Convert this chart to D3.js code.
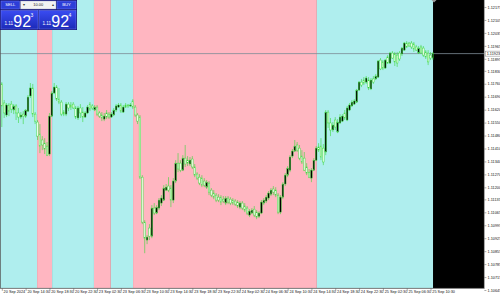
<!DOCTYPE html>
<html>
<head>
<meta charset="utf-8">
<script src="https://cdn.jsdelivr.net/npm/d3@7"></script>
<style>
html, body { margin: 0; padding: 0; background: #fff; }
svg { display: block; font-family: "Liberation Sans", Arial, sans-serif; }
</style>
</head>
<body>
<svg id="chart" width="500" height="296"></svg>
<script>
// time axis labels, one every 10 bars
const timeLabels = ["20 Sep 2024", "20 Sep 14:30", "20 Sep 18:30", "20 Sep 22:30", "23 Sep 02:30",
  "23 Sep 06:30", "23 Sep 10:30", "23 Sep 14:30", "23 Sep 18:30", "23 Sep 22:30", "24 Sep 02:30",
  "24 Sep 06:30", "24 Sep 10:30", "24 Sep 14:30", "24 Sep 18:30", "24 Sep 22:30", "25 Sep 02:30",
  "25 Sep 06:30", "25 Sep 10:30"];

const priceLabels = ["1.12175", "1.12105", "1.12035", "1.11965", "1.11895", "1.11830", "1.11760",
  "1.11690", "1.11620", "1.11550", "1.11480", "1.11410", "1.11340", "1.11270", "1.11200", "1.11135",
  "1.11065", "1.10995", "1.10925", "1.10855", "1.10785", "1.10715", "1.10645"];

const open = [
  1.11759,1.11656,1.11591,1.11645,1.11650,1.11618,1.11640,1.11602,1.11580,1.11596,
  1.11585,1.11612,1.11694,1.11737,1.11596,1.11553,1.11488,1.11456,1.11439,1.11423,
  1.11380,1.11585,1.11710,1.11742,1.11677,1.11661,1.11607,1.11596,1.11650,1.11645,
  1.11650,1.11629,1.11575,1.11629,1.11607,1.11580,1.11602,1.11650,1.11640,1.11618,
  1.11634,1.11602,1.11591,1.11569,1.11602,1.11596,1.11580,1.11591,1.11618,1.11634,
  1.11645,1.11607,1.11645,1.11645,1.11640,1.11667,1.11634,1.11591,1.11580,1.11255,
  1.11012,1.10915,1.10980,1.10936,1.11088,1.11061,1.11088,1.11115,1.11131,1.11185,
  1.11207,1.11196,1.11131,1.11234,1.11331,1.11331,1.11293,1.11358,1.11347,1.11326,
  1.11353,1.11310,1.11272,1.11255,1.11250,1.11234,1.11201,1.11223,1.11185,1.11169,
  1.11158,1.11147,1.11147,1.11136,1.11115,1.11142,1.11136,1.11131,1.11126,1.11120,
  1.11093,1.11115,1.11099,1.11088,1.11050,1.11061,1.11082,1.11066,1.11044,1.11061,
  1.11115,1.11126,1.11142,1.11163,1.11191,1.11185,1.11158,1.11066,1.11147,1.11218,
  1.11266,1.11293,1.11369,1.11396,1.11429,1.11412,1.11369,1.11358,1.11310,1.11282,
  1.11250,1.11293,1.11347,1.11418,1.11423,1.11412,1.11391,1.11607,1.11548,1.11510,
  1.11564,1.11499,1.11548,1.11558,1.11602,1.11564,1.11618,1.11640,1.11650,1.11661,
  1.11726,1.11769,1.11780,1.11769,1.11780,1.11732,1.11786,1.11786,1.11796,1.11888,
  1.11878,1.11845,1.11905,1.11872,1.11926,1.11921,1.11915,1.11926,1.11921,1.11942,
  1.11980,1.11980,1.11980,1.11975,1.11959,1.11926,1.11959,1.11953,1.11932,1.11926,
  1.11915,1.11899];

const high = [
  1.11769,1.11672,1.11656,1.11656,1.11667,1.11650,1.11650,1.11629,1.11607,1.11612,
  1.11623,1.11699,1.11764,1.11759,1.11607,1.11564,1.11542,1.11477,1.11466,1.11445,
  1.11602,1.11721,1.11764,1.11753,1.11737,1.11672,1.11618,1.11661,1.11661,1.11661,
  1.11661,1.11640,1.11640,1.11650,1.11634,1.11612,1.11645,1.11661,1.11650,1.11645,
  1.11645,1.11612,1.11607,1.11602,1.11618,1.11607,1.11607,1.11629,1.11650,1.11656,
  1.11656,1.11645,1.11656,1.11650,1.11656,1.11677,1.11645,1.11602,1.11591,1.11266,
  1.11023,1.10942,1.11001,1.11104,1.11115,1.11104,1.11142,1.11158,1.11212,1.11218,
  1.11255,1.11212,1.11250,1.11347,1.11385,1.11347,1.11374,1.11429,1.11369,1.11364,
  1.11369,1.11326,1.11282,1.11272,1.11266,1.11250,1.11239,1.11234,1.11196,1.11185,
  1.11169,1.11163,1.11158,1.11153,1.11153,1.11153,1.11147,1.11142,1.11136,1.11131,
  1.11126,1.11126,1.11115,1.11099,1.11082,1.11088,1.11099,1.11077,1.11071,1.11131,
  1.11142,1.11158,1.11180,1.11196,1.11207,1.11201,1.11169,1.11158,1.11228,1.11277,
  1.11315,1.11374,1.11407,1.11456,1.11445,1.11429,1.11401,1.11391,1.11331,1.11299,
  1.11304,1.11358,1.11423,1.11439,1.11466,1.11434,1.11618,1.11618,1.11575,1.11553,
  1.11580,1.11569,1.11596,1.11596,1.11618,1.11640,1.11656,1.11672,1.11677,1.11732,
  1.11775,1.11786,1.11796,1.11802,1.11796,1.11791,1.11802,1.11813,1.11888,1.11899,
  1.11888,1.11894,1.11915,1.11932,1.11937,1.11932,1.11932,1.11937,1.11959,1.11986,
  1.11991,1.11986,1.11991,1.11986,1.11970,1.11964,1.11970,1.11964,1.11942,1.11942,
  1.11932,1.11932];

const low = [
  1.11526,1.11575,1.11580,1.11585,1.11602,1.11596,1.11564,1.11548,1.11569,1.11542,
  1.11575,1.11607,1.11683,1.11580,1.11542,1.11456,1.11385,1.11401,1.11380,1.11369,
  1.11369,1.11580,1.11704,1.11667,1.11650,1.11585,1.11585,1.11585,1.11612,1.11618,
  1.11623,1.11569,1.11564,1.11575,1.11553,1.11575,1.11596,1.11612,1.11618,1.11612,
  1.11585,1.11575,1.11558,1.11558,1.11569,1.11569,1.11575,1.11585,1.11607,1.11629,
  1.11602,1.11602,1.11629,1.11629,1.11634,1.11623,1.11580,1.11542,1.11245,1.11001,
  1.10844,1.10893,1.10915,1.10925,1.11050,1.11055,1.11077,1.11099,1.11126,1.11180,
  1.11174,1.11093,1.11115,1.11223,1.11282,1.11282,1.11288,1.11310,1.11315,1.11315,
  1.11299,1.11255,1.11239,1.11212,1.11201,1.11201,1.11191,1.11158,1.11147,1.11136,
  1.11120,1.11120,1.11104,1.11115,1.11104,1.11109,1.11104,1.11104,1.11099,1.11088,
  1.11082,1.11077,1.11066,1.11050,1.11039,1.11055,1.11039,1.11028,1.11034,1.11055,
  1.11104,1.11115,1.11131,1.11153,1.11158,1.11147,1.11055,1.11055,1.11136,1.11207,
  1.11255,1.11282,1.11358,1.11391,1.11391,1.11347,1.11326,1.11288,1.11266,1.11250,
  1.11228,1.11288,1.11342,1.11391,1.11347,1.11320,1.11374,1.11521,1.11477,1.11499,
  1.11510,1.11493,1.11542,1.11553,1.11564,1.11558,1.11612,1.11634,1.11645,1.11656,
  1.11721,1.11742,1.11753,1.11759,1.11726,1.11726,1.11759,1.11780,1.11791,1.11834,
  1.11834,1.11840,1.11867,1.11867,1.11894,1.11856,1.11851,1.11883,1.11910,1.11937,
  1.11953,1.11959,1.11948,1.11932,1.11937,1.11921,1.11921,1.11905,1.11894,1.11861,
  1.11888,1.11888];

const close = [
  1.11640,1.11602,1.11645,1.11612,1.11623,1.11640,1.11602,1.11580,1.11591,1.11585,
  1.11618,1.11688,1.11737,1.11596,1.11558,1.11477,1.11423,1.11429,1.11407,1.11374,
  1.11585,1.11710,1.11742,1.11677,1.11661,1.11596,1.11596,1.11650,1.11629,1.11634,
  1.11629,1.11580,1.11629,1.11602,1.11580,1.11602,1.11634,1.11623,1.11629,1.11634,
  1.11596,1.11585,1.11575,1.11585,1.11580,1.11580,1.11596,1.11618,1.11640,1.11645,
  1.11612,1.11634,1.11634,1.11640,1.11645,1.11634,1.11591,1.11558,1.11255,1.11012,
  1.10925,1.10931,1.10936,1.11088,1.11061,1.11093,1.11131,1.11142,1.11196,1.11201,
  1.11185,1.11131,1.11234,1.11331,1.11299,1.11293,1.11358,1.11326,1.11331,1.11347,
  1.11310,1.11266,1.11250,1.11223,1.11212,1.11212,1.11228,1.11174,1.11158,1.11147,
  1.11131,1.11131,1.11120,1.11126,1.11142,1.11120,1.11115,1.11115,1.11109,1.11099,
  1.11115,1.11088,1.11077,1.11061,1.11071,1.11077,1.11050,1.11039,1.11061,1.11120,
  1.11131,1.11147,1.11169,1.11185,1.11174,1.11158,1.11066,1.11147,1.11218,1.11266,
  1.11304,1.11364,1.11396,1.11423,1.11401,1.11358,1.11337,1.11293,1.11277,1.11255,
  1.11293,1.11347,1.11412,1.11401,1.11364,1.11337,1.11607,1.11548,1.11510,1.11537,
  1.11526,1.11553,1.11580,1.11585,1.11575,1.11629,1.11645,1.11661,1.11667,1.11726,
  1.11769,1.11753,1.11764,1.11791,1.11737,1.11780,1.11769,1.11802,1.11883,1.11840,
  1.11845,1.11888,1.11872,1.11926,1.11899,1.11878,1.11872,1.11894,1.11953,1.11980,
  1.11959,1.11964,1.11959,1.11948,1.11942,1.11953,1.11926,1.11915,1.11905,1.11878,
  1.11899,1.11923];

// background zones, in bar units
const zoneEdges = [-0.75, 14.8, 21.1, 38.7, 45.8, 55.1, 132.3, 181.05];
const zoneKinds = ["up", "down", "up", "down", "up", "down", "up"];

const bid = 1.11923;
const sellPrice = "1.11923";
const buyPrice = "1.11924";
const lotSize = "10.00";

const plotRight = 484, plotBottom = 288;
const svg = d3.select("#chart");

const x = d3.scaleLinear().domain([0, open.length - 1]).range([1.8, 432.9]);
const y = d3.scaleLinear().domain([1.10645, 1.12175]).range([290, 7]);

const bars = open.map(function(o, i) {
  return {i: i, o: o, h: high[i], l: low[i], c: close[i]};
});

// plot background
svg.append("rect")
  .attr("x", 0).attr("y", 0)
  .attr("width", plotRight).attr("height", plotBottom)
  .attr("fill", "#000");

const zoneColor = {up: "#afeeee", down: "#ffb6c1"};
svg.append("g").selectAll("rect")
  .data(zoneKinds)
  .enter().append("rect")
  .attr("x", function(d, i) { return Math.max(0, x(zoneEdges[i])); })
  .attr("y", 0)
  .attr("width", function(d, i) { return x(zoneEdges[i + 1]) - Math.max(0, x(zoneEdges[i])); })
  .attr("height", plotBottom)
  .attr("fill", function(d) { return zoneColor[d]; });

// bid line
svg.append("line")
  .attr("x1", 0).attr("x2", plotRight)
  .attr("y1", y(bid)).attr("y2", y(bid))
  .attr("stroke", "#7c8c96").attr("stroke-width", 0.8);

// candles
const candle = svg.append("g").selectAll("g")
  .data(bars)
  .enter().append("g");

candle.append("line")
  .attr("x1", function(d) { return x(d.i); })
  .attr("x2", function(d) { return x(d.i); })
  .attr("y1", function(d) { return y(d.h); })
  .attr("y2", function(d) { return y(d.l); })
  .attr("stroke", "#3ad83a").attr("stroke-width", 0.6);

candle.append("rect")
  .attr("x", function(d) { return x(d.i) - 0.8; })
  .attr("y", function(d) { return y(Math.max(d.o, d.c)); })
  .attr("width", 1.6)
  .attr("height", function(d) { return Math.max(0.6, Math.abs(y(d.o) - y(d.c))); })
  .attr("fill", function(d) { return d.c >= d.o ? "#000" : "#eaffe6"; })
  .attr("stroke", "#3ad83a").attr("stroke-width", 0.45);

// chart shift marker
svg.append("path")
  .attr("d", "M431.5,0 L436.5,0 L434,2.6 Z")
  .attr("fill", "#9a9a9a");

// frame
svg.append("line").attr("x1", 0.4).attr("x2", 0.4).attr("y1", 0).attr("y2", plotBottom)
  .attr("stroke", "#555").attr("stroke-width", 0.8);
svg.append("line").attr("x1", 0).attr("x2", plotRight).attr("y1", plotBottom + 0.4).attr("y2", plotBottom + 0.4)
  .attr("stroke", "#555").attr("stroke-width", 0.8);
svg.append("line").attr("x1", plotRight + 0.4).attr("x2", plotRight + 0.4).attr("y1", 0).attr("y2", plotBottom + 0.8)
  .attr("stroke", "#888").attr("stroke-width", 0.8);

// price axis
const yAxis = d3.axisRight(y)
  .tickValues(priceLabels.map(Number))
  .tickFormat(function(d, i) { return priceLabels[i]; })
  .tickSize(2).tickPadding(1.2);

const ya = svg.append("g")
  .attr("transform", "translate(" + (plotRight + 0.4) + ",0)")
  .call(yAxis);
ya.select(".domain").remove();
ya.selectAll("line").attr("stroke", "#555").attr("stroke-width", 0.5);
ya.selectAll("text").attr("fill", "#111").style("font-size", "3.8px");

// time axis
const xAxis = d3.axisBottom(x)
  .tickValues(timeLabels.map(function(d, i) { return i * 10; }))
  .tickFormat(function(d, i) { return timeLabels[i]; })
  .tickSize(2.5);

const xa = svg.append("g")
  .attr("transform", "translate(0," + (plotBottom + 0.4) + ")")
  .call(xAxis);
xa.select(".domain").remove();
xa.selectAll("line").attr("stroke", "#555").attr("stroke-width", 0.5);
xa.selectAll("text")
  .attr("text-anchor", "start")
  .attr("x", 1.3).attr("y", 2.2)
  .attr("fill", "#111").style("font-size", "3.8px");

// bid label on the price axis
const bidBox = svg.append("g").attr("transform", "translate(" + (plotRight + 1.2) + "," + y(bid) + ")");
bidBox.append("rect")
  .attr("x", 0).attr("y", -2.5).attr("width", 15).attr("height", 5)
  .attr("fill", "#fff").attr("stroke", "#666").attr("stroke-width", 0.4);
bidBox.append("text")
  .attr("x", 1.5).attr("y", 1.3)
  .attr("fill", "#111").style("font-size", "3.8px")
  .text(sellPrice);

// one-click trading panel
const defs = svg.append("defs");
const grad = defs.append("linearGradient").attr("id", "pbox").attr("x1", 0).attr("x2", 0).attr("y1", 0).attr("y2", 1);
grad.append("stop").attr("offset", "0%").attr("stop-color", "#3a4cf2");
grad.append("stop").attr("offset", "100%").attr("stop-color", "#1c2ab8");

const panel = svg.append("g");
panel.append("rect").attr("x", 0).attr("y", 0).attr("width", 77).attr("height", 30).attr("fill", "#14147a");

function button(px, w, label) {
  panel.append("rect").attr("x", px).attr("y", 1).attr("width", w).attr("height", 8)
    .attr("fill", "#2d3ed8").attr("stroke", "#8492ff").attr("stroke-width", 0.4);
  panel.append("text").attr("x", px + w / 2).attr("y", 6.4)
    .attr("text-anchor", "middle").attr("fill", "#fff").style("font-size", "4.2px")
    .text(label);
}
button(1, 18.5, "SELL");
button(57, 19, "BUY");

panel.append("rect").attr("x", 20.5).attr("y", 1).attr("width", 35.5).attr("height", 8)
  .attr("fill", "#f2f2f2").attr("stroke", "#9aa0c8").attr("stroke-width", 0.4);
panel.append("text").attr("x", 23.8).attr("y", 6.4).attr("text-anchor", "middle")
  .attr("fill", "#333").style("font-size", "4px").text("\u25BE");
panel.append("text").attr("x", 52.8).attr("y", 6.4).attr("text-anchor", "middle")
  .attr("fill", "#333").style("font-size", "4px").text("\u25B4");
panel.append("text").attr("x", 38.3).attr("y", 6.4).attr("text-anchor", "middle")
  .attr("fill", "#222").style("font-size", "4px").text(lotSize);

function priceBox(px, w, price) {
  panel.append("rect").attr("x", px).attr("y", 10.5).attr("width", w).attr("height", 18.5)
    .attr("fill", "url(#pbox)").attr("stroke", "#8492ff").attr("stroke-width", 0.4);
  panel.append("text").attr("x", px + 3.5).attr("y", 25.4)
    .attr("fill", "#fff").style("font-size", "4.6px").text(price.slice(0, 4));
  panel.append("text").attr("x", px + 12.3).attr("y", 26.6)
    .attr("fill", "#fff").style("font-size", "16px").text(price.slice(4, 6));
  panel.append("text").attr("x", px + 29.6).attr("y", 17.4)
    .attr("fill", "#fff").style("font-size", "5px").text(price.slice(6));
}
priceBox(1, 37, sellPrice);
priceBox(39, 37, buyPrice);
</script>
</body>
</html>
